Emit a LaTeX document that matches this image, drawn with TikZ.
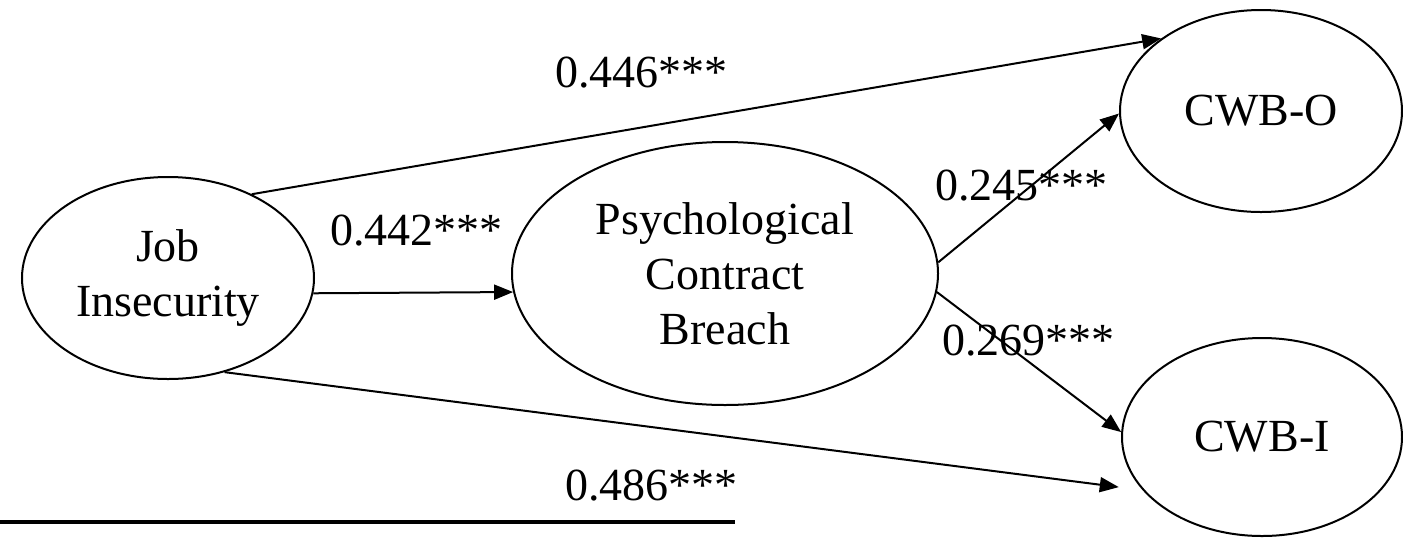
\documentclass[tikz,border=0pt]{standalone}
\usepackage{fontspec}
\setmainfont{Liberation Serif}
\usetikzlibrary{shapes.geometric,arrows.meta}
\begin{document}
\begin{tikzpicture}[x=0.5pt,y=-0.5pt,
  construct/.style={draw, ellipse, line width=1pt, inner sep=0pt, align=center,
    font=\fontsize{23}{27.5}\selectfont},
  coef/.style={anchor=base west, inner sep=0pt, font=\fontsize{23}{27.5}\selectfont},
  effect/.style={line width=1pt, -{Triangle[length=9.5pt,width=7.5pt]}}]
\useasboundingbox (0,0) rectangle (1403,537);

% constructs
\node[construct, minimum width=146pt, minimum height=101pt] (ji) at (168,278) {Job\\Insecurity};
\node[construct, minimum width=213pt, minimum height=131.5pt] (pcb) at (725,273.5) {Psychological\\Contract\\Breach};
\node[construct, minimum width=141pt, minimum height=101pt] (cwbo) at (1261,111) {CWB-O};
\node[construct, minimum width=140pt, minimum height=99pt] (cwbi) at (1262,437) {CWB-I};

% structural paths
\draw[effect] (ji.45) -- (cwbo.144);
\draw[effect] (ji.-6) -- (pcb.185);
\draw[effect, shorten >=12pt] (ji.-59) -- (cwbi.204);
\draw[effect] (pcb.3) -- (cwbo.181);
\draw[effect] (pcb.-5) -- (cwbi.178);

% path coefficients
\node[coef] (c1) at (555,87) {0.446***};
\node[coef] (c2) at (330,245) {0.442***};
\node[coef] (c3) at (935,200) {0.245***};
\node[coef] (c4) at (942,355) {0.269***};
\node[coef] (c5) at (565,500) {0.486***};

% rule under the figure
\draw[line width=2pt] (0,522) -- (735,522);
\end{tikzpicture}
\end{document}
